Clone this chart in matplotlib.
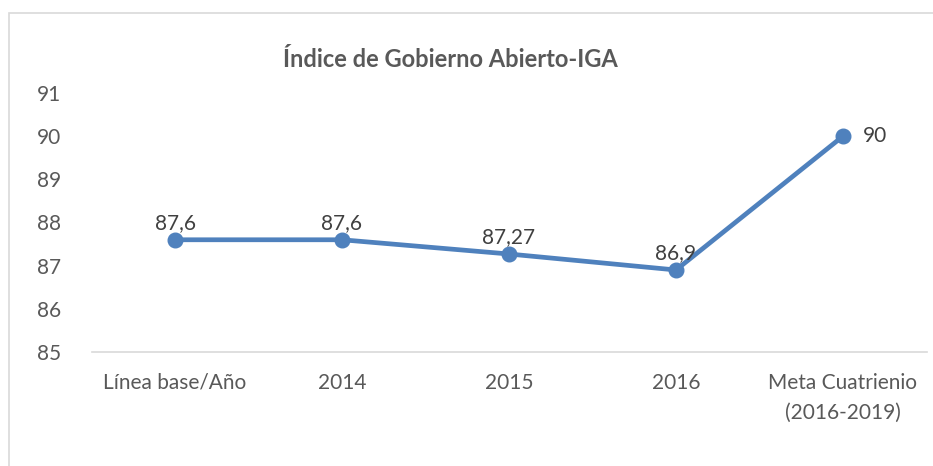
import matplotlib
matplotlib.use("Agg")
import matplotlib.pyplot as plt
from matplotlib.patches import Rectangle

categories = ["Línea base/Año", "2014", "2015", "2016", "Meta Cuatrienio\n(2016-2019)"]
values = [87.6, 87.6, 87.27, 86.9, 90]
labels = ["87,6", "87,6", "87,27", "86,9", "90"]
yticks = [85, 86, 87, 88, 89, 90, 91]

plt.rcParams['font.family'] = ['Lato', 'DejaVu Sans']
txt = '#595959'

fig = plt.figure(figsize=(9.33, 4.66), dpi=100)
fig.patches.append(Rectangle((9/933, -0.1), 1.2, 1 - 13/466 + 0.1, transform=fig.transFigure,
                             fill=False, edgecolor='#d9d9d9', linewidth=1.2))
ax = fig.add_axes([91.5/933, 1 - 352/466, 835/933, (352 - 93)/466])
x = list(range(len(categories)))
ax.plot(x, values, color='#4F81BD', linewidth=3.4, marker='o', markersize=10.5, solid_capstyle='round')
ax.set_xlim(-0.5, len(categories) - 0.5)
ax.set_ylim(85, 91)
ax.set_yticks(yticks)
ax.set_yticklabels([str(t) for t in yticks])
ax.set_xticks(x)
ax.set_xticklabels(categories, linespacing=1.65)
for s in ['top', 'right', 'left']:
    ax.spines[s].set_visible(False)
ax.spines['bottom'].set_color('#d9d9d9')
ax.spines['bottom'].set_linewidth(1.2)
ax.tick_params(axis='both', length=0, labelsize=15, colors=txt)
ax.tick_params(axis='y', pad=22)
ax.tick_params(axis='x', pad=15)
for i, (v, lab) in enumerate(zip(values, labels)):
    if i == len(values) - 1:
        ax.annotate(lab, (i, v), xytext=(14, 0), textcoords='offset points',
                    ha='left', va='center', fontsize=15, color='#404040')
    else:
        ax.annotate(lab, (i, v), xytext=(0, 5), textcoords='offset points',
                    ha='center', va='bottom', fontsize=15, color='#404040')
fig.text(450/933, 1 - 60/466, "Índice de Gobierno Abierto-IGA", ha='center', va='center',
         fontsize=17, fontweight='bold', color=txt)
fig.savefig("out.png", dpi=100)
